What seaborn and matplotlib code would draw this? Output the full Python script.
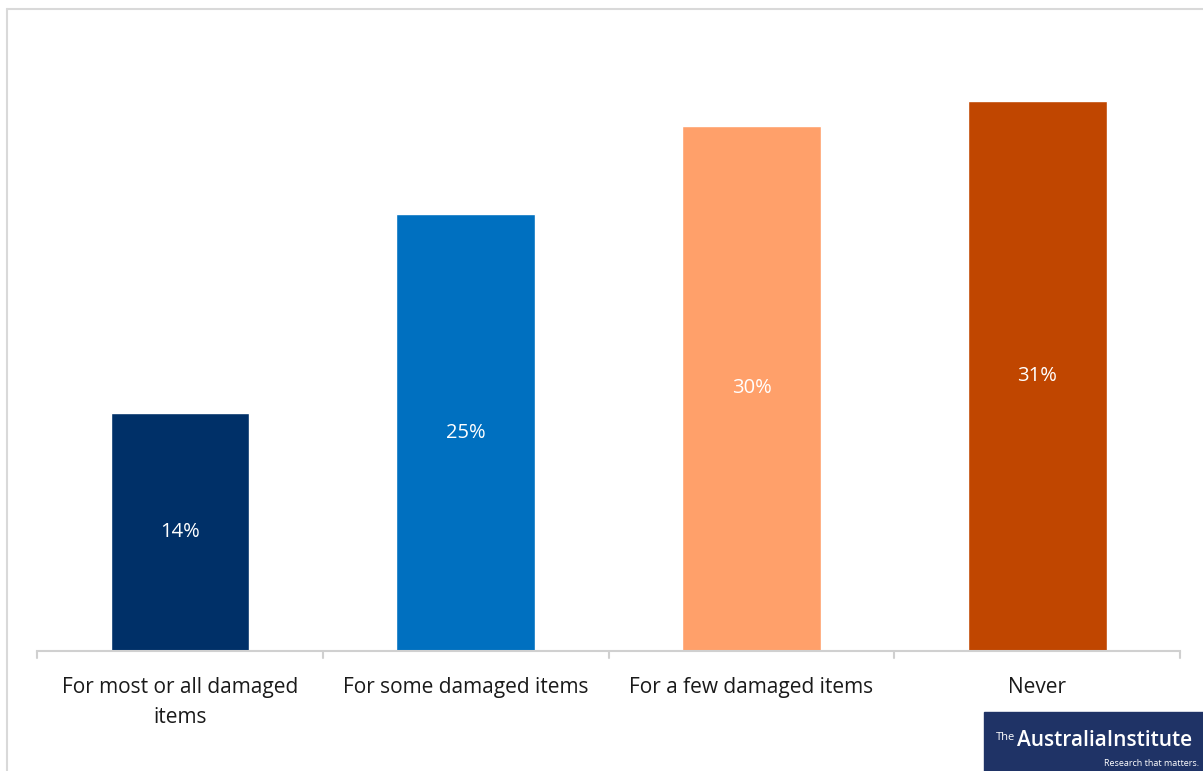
import seaborn as sns
import pandas as pd
import matplotlib.pyplot as plt
from matplotlib.patches import Rectangle
from matplotlib.lines import Line2D

categories = ["For most or all damaged\nitems", "For some damaged items",
              "For a few damaged items", "Never"]
values = [13.5, 24.8, 29.8, 31.2]
labels = ["14%", "25%", "30%", "31%"]
colors = ["#003068", "#0070C0", "#FFA06A", "#C04600"]

df = pd.DataFrame({"category": categories, "value": values})

sns.set_style("white")
plt.rcParams["font.family"] = ["Open Sans", "DejaVu Sans"]

fig = plt.figure(figsize=(12.03, 7.71), dpi=100)
ax = fig.add_axes([0.0308, 0.1556, 0.9502, 0.80])

sns.barplot(data=df, x="category", y="value", hue="category", palette=colors,
            width=0.485, legend=False, ax=ax, saturation=1)

for bar, lab in zip(ax.patches, labels):
    h = bar.get_height()
    ax.text(bar.get_x() + bar.get_width() / 2, h / 2, lab,
            ha="center", va="center", color="white", fontsize=14.5)

ax.set_xlim(-0.5, 3.5)
ax.set_ylim(0, 35)
ax.set_xlabel("")
ax.set_ylabel("")
ax.set_yticks([])
ax.set_xticks(range(4))
ax.set_xticklabels(categories, fontsize=15, color="#1a1a1a", linespacing=1.55)
ax.tick_params(axis="x", length=0, pad=19)
for s in ["top", "right", "left"]:
    ax.spines[s].set_visible(False)
ax.spines["bottom"].set_color("#d0d0d0")
ax.spines["bottom"].set_linewidth(1.5)

# category boundary ticks
for xb in [-0.5, 0.5, 1.5, 2.5, 3.5]:
    ax.plot([xb, xb], [0, -0.4], color="#d0d0d0", lw=1.5, clip_on=False)

# chart frame
fig.add_artist(Line2D([7 / 1203, 1], [1 - 9 / 771, 1 - 9 / 771],
                      color="#d9d9d9", lw=1.5))
fig.add_artist(Line2D([7 / 1203, 7 / 1203], [0, 1 - 9 / 771],
                      color="#d9d9d9", lw=1.5))

# logo
fig.add_artist(Rectangle((984 / 1203, 0), 219 / 1203, 59 / 771,
                         transform=fig.transFigure, color="#1F3366"))
fig.text(996 / 1203, 1 - 737 / 771, "The", color="white", fontsize=8,
         va="center", ha="left")
fig.text(1017 / 1203, 1 - 741 / 771, "AustraliaInstitute", color="white",
         fontsize=15, va="center", ha="left", fontweight="semibold")
fig.text(1199 / 1203, 1 - 763 / 771, "Research that matters.", color="white",
         fontsize=6.5, va="center", ha="right")

fig.savefig("out.png", dpi=100)
